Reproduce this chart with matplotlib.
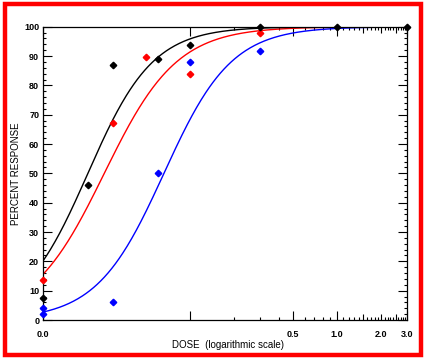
import numpy as np
import matplotlib
matplotlib.use("Agg")
import matplotlib.pyplot as plt
from matplotlib.patches import Rectangle
from matplotlib.ticker import NullFormatter

plt.rcParams['font.family'] = ['Liberation Sans', 'DejaVu Sans']

# data (dose 0.01 = control, drawn on the axis)
black_dose = [0.01, 0.02, 0.03, 0.06, 0.1, 0.3, 1.0, 3.0]
black_resp = [7.6, 46.2, 87.0, 89.1, 93.6, 100, 100, 100]
red_dose = [0.01, 0.03, 0.05, 0.1, 0.3]
red_resp = [13.7, 67.2, 89.7, 84.0, 97.8]
blue_dose = [0.01, 0.01, 0.03, 0.06, 0.1, 0.3]
blue_resp = [4.2, 2.1, 6.2, 50.1, 87.9, 91.6]

# fitted logistic (Hill) curves: ED50 and Hill exponent
curve_colors = ['blue', 'red', 'black']
curve_ed50 = [0.0662, 0.0260, 0.0201]
curve_hill = [1.89, 1.76, 1.96]

xtick_pos = [0.01, 0.1, 0.5, 1.0, 2.0, 3.0]
xtick_lab = ['0.0', '', '0.5', '1.0', '2.0', '3.0']

fig = plt.figure(figsize=(4.25, 3.58), dpi=100)
ax = fig.add_axes([0.1019, 0.1061, 0.8565, 0.8193])

d = np.logspace(np.log10(0.01), np.log10(3.0), 400)
for c, ed, h in zip(curve_colors, curve_ed50, curve_hill):
    ax.plot(d, 100.0 / (1.0 + (ed / d) ** h), color=c, lw=1.0)

ax.plot(blue_dose, blue_resp, 'D', color='blue', ms=3.3, ls='none', clip_on=False, zorder=5)
ax.plot(red_dose, red_resp, 'D', color='red', ms=3.3, ls='none', clip_on=False, zorder=5)
ax.plot(black_dose, black_resp, 'D', color='black', ms=3.3, ls='none', clip_on=False, zorder=6)

ax.set_xscale('log')
ax.set_xlim(0.01, 3.0)
ax.set_ylim(0, 100)

ax.set_xticks(xtick_pos)
ax.set_xticklabels(xtick_lab)
minor = [0.2, 0.3, 0.4, 0.6, 0.7, 0.8, 0.9] + [round(1.1 + 0.1 * i, 1) for i in range(19) if round(1.1 + 0.1 * i, 1) != 2.0]
ax.set_xticks(minor, minor=True)
ax.xaxis.set_minor_formatter(NullFormatter())
ax.set_yticks(np.arange(0, 101, 10))
ax.set_yticks(np.arange(0, 101, 2), minor=True)

ax.tick_params(which='both', direction='in', top=True, right=True, width=0.8)
ax.tick_params(which='major', length=6.5)
ax.tick_params(which='minor', length=2.5)
ax.tick_params(axis='x', which='major', pad=7)
ax.tick_params(axis='y', which='major', pad=3)

# medium ticks at 1.5, 2.0, 2.5
for t, v in zip(ax.xaxis.get_major_ticks(), xtick_pos):
    if v == 2.0:
        t.tick1line.set_markersize(4)
        t.tick2line.set_markersize(4)
for t, v in zip(ax.xaxis.get_minor_ticks(), minor):
    if v in (1.5, 2.5):
        t.tick1line.set_markersize(4)
        t.tick2line.set_markersize(4)

for lab in ax.get_xticklabels() + ax.get_yticklabels():
    lab.set_fontweight('bold')
    lab.set_fontsize(6.5)

for s in ax.spines.values():
    s.set_linewidth(0.9)

fig.text(16 / 425, 0.515, 'PERCENT RESPONSE', rotation=90, ha='center', va='center', fontsize=7)
fig.text(228.5 / 425, 13 / 358, 'DOSE  (logarithmic scale)', ha='center', va='center', fontsize=7)

fig.patches.append(Rectangle((4.7 / 425, 3.5 / 358), (420.5 - 4.7) / 425, (354.3 - 3.5) / 358,
                             transform=fig.transFigure, fill=False, edgecolor='red', lw=3.2))

fig.savefig('out.png', dpi=100)
